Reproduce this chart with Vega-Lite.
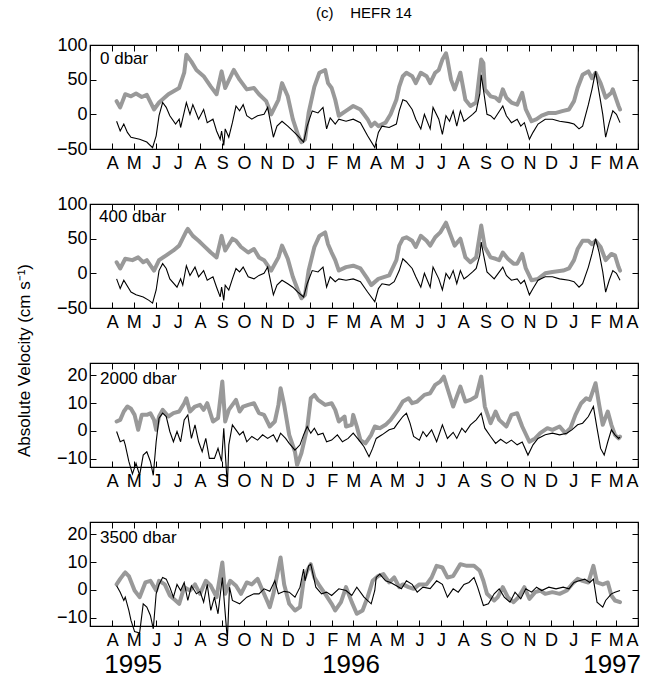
{
"$schema":"https://vega.github.io/schema/vega-lite/v6.json",
"background":"white",
"padding":{"left":14,"top":6,"right":5,"bottom":5},
"config":{"font":"Liberation Sans","view":{"stroke":"black","strokeWidth":1.2},
"axis":{"grid":false,"domain":false,"ticks":true,"tickColor":"black","tickWidth":1,"tickSize":-6,"labelFont":"Liberation Sans","labelFontSize":18,"labelColor":"black","titleFont":"Liberation Sans","titleFontWeight":"normal","titleColor":"black"},
"axisX":{"labelPadding":11},"axisY":{"labelPadding":9},
"title":{"font":"Liberation Sans","fontWeight":"normal","color":"black"}},
"title":{"text":"(c)\u00a0\u00a0\u00a0\u00a0HEFR 14","fontSize":15,"anchor":"middle","offset":14,"dx":36},
"datasets":{
"yr":[{"t":"1995","d":"1995-04-30"},{"t":"1996","d":"1996-02-27"},{"t":"1997","d":"1997-02-24"}],
"v":[
{"s":"g0","d":"1995-04-07","v":19},{"s":"g0","d":"1995-04-12","v":10},{"s":"g0","d":"1995-04-19","v":29},{"s":"g0","d":"1995-04-27","v":26},{"s":"g0","d":"1995-05-04","v":30},{"s":"g0","d":"1995-05-12","v":25},{"s":"g0","d":"1995-05-19","v":28},{"s":"g0","d":"1995-05-29","v":7},{"s":"g0","d":"1995-06-05","v":17},{"s":"g0","d":"1995-06-18","v":29},{"s":"g0","d":"1995-07-03","v":38},{"s":"g0","d":"1995-07-10","v":60},{"s":"g0","d":"1995-07-13","v":86},{"s":"g0","d":"1995-07-20","v":76},{"s":"g0","d":"1995-07-27","v":64},{"s":"g0","d":"1995-08-06","v":55},{"s":"g0","d":"1995-08-16","v":40},{"s":"g0","d":"1995-08-24","v":29},{"s":"g0","d":"1995-08-31","v":62},{"s":"g0","d":"1995-09-05","v":38},{"s":"g0","d":"1995-09-15","v":60},{"s":"g0","d":"1995-09-17","v":64},{"s":"g0","d":"1995-09-25","v":50},{"s":"g0","d":"1995-10-05","v":36},{"s":"g0","d":"1995-10-15","v":38},{"s":"g0","d":"1995-10-22","v":29},{"s":"g0","d":"1995-11-01","v":19},{"s":"g0","d":"1995-11-08","v":0},{"s":"g0","d":"1995-11-18","v":21},{"s":"g0","d":"1995-11-23","v":45},{"s":"g0","d":"1995-12-01","v":26},{"s":"g0","d":"1995-12-08","v":-7},{"s":"g0","d":"1995-12-15","v":-29},{"s":"g0","d":"1995-12-20","v":-40},{"s":"g0","d":"1995-12-25","v":-36},{"s":"g0","d":"1995-12-30","v":2},{"s":"g0","d":"1996-01-07","v":40},{"s":"g0","d":"1996-01-14","v":60},{"s":"g0","d":"1996-01-22","v":64},{"s":"g0","d":"1996-01-26","v":45},{"s":"g0","d":"1996-01-31","v":38},{"s":"g0","d":"1996-02-05","v":21},{"s":"g0","d":"1996-02-10","v":-2},{"s":"g0","d":"1996-02-20","v":5},{"s":"g0","d":"1996-03-01","v":12},{"s":"g0","d":"1996-03-11","v":7},{"s":"g0","d":"1996-03-21","v":-7},{"s":"g0","d":"1996-03-26","v":-17},{"s":"g0","d":"1996-03-31","v":-12},{"s":"g0","d":"1996-04-05","v":-17},{"s":"g0","d":"1996-04-15","v":-12},{"s":"g0","d":"1996-04-22","v":0},{"s":"g0","d":"1996-04-30","v":21},{"s":"g0","d":"1996-05-04","v":40},{"s":"g0","d":"1996-05-09","v":55},{"s":"g0","d":"1996-05-14","v":60},{"s":"g0","d":"1996-05-22","v":55},{"s":"g0","d":"1996-05-27","v":45},{"s":"g0","d":"1996-06-03","v":60},{"s":"g0","d":"1996-06-11","v":55},{"s":"g0","d":"1996-06-16","v":45},{"s":"g0","d":"1996-06-23","v":60},{"s":"g0","d":"1996-06-28","v":64},{"s":"g0","d":"1996-07-03","v":79},{"s":"g0","d":"1996-07-08","v":88},{"s":"g0","d":"1996-07-10","v":79},{"s":"g0","d":"1996-07-15","v":50},{"s":"g0","d":"1996-07-20","v":36},{"s":"g0","d":"1996-07-28","v":60},{"s":"g0","d":"1996-08-04","v":21},{"s":"g0","d":"1996-08-11","v":12},{"s":"g0","d":"1996-08-19","v":17},{"s":"g0","d":"1996-08-26","v":79},{"s":"g0","d":"1996-08-29","v":74},{"s":"g0","d":"1996-08-31","v":36},{"s":"g0","d":"1996-09-08","v":26},{"s":"g0","d":"1996-09-15","v":24},{"s":"g0","d":"1996-09-20","v":19},{"s":"g0","d":"1996-09-25","v":36},{"s":"g0","d":"1996-09-30","v":24},{"s":"g0","d":"1996-10-07","v":17},{"s":"g0","d":"1996-10-15","v":14},{"s":"g0","d":"1996-10-22","v":31},{"s":"g0","d":"1996-10-27","v":7},{"s":"g0","d":"1996-11-04","v":-10},{"s":"g0","d":"1996-11-11","v":-7},{"s":"g0","d":"1996-11-18","v":-2},{"s":"g0","d":"1996-11-28","v":2},{"s":"g0","d":"1996-12-08","v":2},{"s":"g0","d":"1996-12-18","v":5},{"s":"g0","d":"1996-12-26","v":7},{"s":"g0","d":"1997-01-02","v":19},{"s":"g0","d":"1997-01-07","v":38},{"s":"g0","d":"1997-01-14","v":57},{"s":"g0","d":"1997-01-22","v":62},{"s":"g0","d":"1997-01-27","v":52},{"s":"g0","d":"1997-02-01","v":60},{"s":"g0","d":"1997-02-08","v":45},{"s":"g0","d":"1997-02-15","v":24},{"s":"g0","d":"1997-02-23","v":31},{"s":"g0","d":"1997-02-25","v":36},{"s":"g0","d":"1997-03-05","v":12},{"s":"g0","d":"1997-03-07","v":7},
{"s":"b0","d":"1995-04-07","v":-10},{"s":"b0","d":"1995-04-12","v":-24},{"s":"b0","d":"1995-04-17","v":-14},{"s":"b0","d":"1995-04-22","v":-26},{"s":"b0","d":"1995-04-27","v":-33},{"s":"b0","d":"1995-05-09","v":-36},{"s":"b0","d":"1995-05-19","v":-40},{"s":"b0","d":"1995-05-27","v":-48},{"s":"b0","d":"1995-06-01","v":-31},{"s":"b0","d":"1995-06-05","v":-2},{"s":"b0","d":"1995-06-10","v":17},{"s":"b0","d":"1995-06-15","v":10},{"s":"b0","d":"1995-06-20","v":-2},{"s":"b0","d":"1995-06-28","v":-14},{"s":"b0","d":"1995-07-03","v":-7},{"s":"b0","d":"1995-07-05","v":-19},{"s":"b0","d":"1995-07-13","v":17},{"s":"b0","d":"1995-07-18","v":0},{"s":"b0","d":"1995-07-22","v":14},{"s":"b0","d":"1995-07-30","v":-7},{"s":"b0","d":"1995-08-06","v":7},{"s":"b0","d":"1995-08-11","v":-12},{"s":"b0","d":"1995-08-19","v":-7},{"s":"b0","d":"1995-08-24","v":-24},{"s":"b0","d":"1995-08-29","v":-36},{"s":"b0","d":"1995-08-31","v":-24},{"s":"b0","d":"1995-09-03","v":-45},{"s":"b0","d":"1995-09-05","v":-21},{"s":"b0","d":"1995-09-10","v":-33},{"s":"b0","d":"1995-09-15","v":-12},{"s":"b0","d":"1995-09-20","v":12},{"s":"b0","d":"1995-09-25","v":5},{"s":"b0","d":"1995-09-30","v":14},{"s":"b0","d":"1995-10-05","v":-2},{"s":"b0","d":"1995-10-12","v":-7},{"s":"b0","d":"1995-10-20","v":-2},{"s":"b0","d":"1995-10-29","v":0},{"s":"b0","d":"1995-11-03","v":10},{"s":"b0","d":"1995-11-11","v":-33},{"s":"b0","d":"1995-11-16","v":-17},{"s":"b0","d":"1995-11-23","v":-10},{"s":"b0","d":"1995-12-01","v":-17},{"s":"b0","d":"1995-12-08","v":-24},{"s":"b0","d":"1995-12-15","v":-31},{"s":"b0","d":"1995-12-23","v":-40},{"s":"b0","d":"1995-12-28","v":-17},{"s":"b0","d":"1996-01-04","v":5},{"s":"b0","d":"1996-01-12","v":2},{"s":"b0","d":"1996-01-19","v":10},{"s":"b0","d":"1996-01-24","v":-21},{"s":"b0","d":"1996-01-29","v":-5},{"s":"b0","d":"1996-02-05","v":-14},{"s":"b0","d":"1996-02-10","v":-7},{"s":"b0","d":"1996-02-20","v":-10},{"s":"b0","d":"1996-03-01","v":-7},{"s":"b0","d":"1996-03-11","v":-12},{"s":"b0","d":"1996-03-21","v":-31},{"s":"b0","d":"1996-03-31","v":-48},{"s":"b0","d":"1996-04-05","v":-26},{"s":"b0","d":"1996-04-10","v":-17},{"s":"b0","d":"1996-04-20","v":-19},{"s":"b0","d":"1996-04-30","v":-14},{"s":"b0","d":"1996-05-04","v":5},{"s":"b0","d":"1996-05-09","v":21},{"s":"b0","d":"1996-05-14","v":19},{"s":"b0","d":"1996-05-22","v":7},{"s":"b0","d":"1996-05-27","v":-7},{"s":"b0","d":"1996-06-03","v":-21},{"s":"b0","d":"1996-06-08","v":0},{"s":"b0","d":"1996-06-16","v":-21},{"s":"b0","d":"1996-06-20","v":10},{"s":"b0","d":"1996-06-28","v":-7},{"s":"b0","d":"1996-07-03","v":-29},{"s":"b0","d":"1996-07-08","v":-2},{"s":"b0","d":"1996-07-13","v":-10},{"s":"b0","d":"1996-07-18","v":5},{"s":"b0","d":"1996-07-23","v":-17},{"s":"b0","d":"1996-07-28","v":5},{"s":"b0","d":"1996-08-02","v":-10},{"s":"b0","d":"1996-08-06","v":-7},{"s":"b0","d":"1996-08-14","v":0},{"s":"b0","d":"1996-08-19","v":5},{"s":"b0","d":"1996-08-24","v":29},{"s":"b0","d":"1996-08-26","v":57},{"s":"b0","d":"1996-08-29","v":36},{"s":"b0","d":"1996-09-03","v":0},{"s":"b0","d":"1996-09-08","v":-2},{"s":"b0","d":"1996-09-13","v":-7},{"s":"b0","d":"1996-09-25","v":12},{"s":"b0","d":"1996-09-30","v":-2},{"s":"b0","d":"1996-10-07","v":-12},{"s":"b0","d":"1996-10-15","v":-7},{"s":"b0","d":"1996-10-20","v":-17},{"s":"b0","d":"1996-10-25","v":-12},{"s":"b0","d":"1996-11-01","v":-36},{"s":"b0","d":"1996-11-06","v":-26},{"s":"b0","d":"1996-11-13","v":-14},{"s":"b0","d":"1996-11-23","v":-7},{"s":"b0","d":"1996-12-03","v":-7},{"s":"b0","d":"1996-12-13","v":-10},{"s":"b0","d":"1996-12-26","v":-12},{"s":"b0","d":"1997-01-02","v":-14},{"s":"b0","d":"1997-01-09","v":-21},{"s":"b0","d":"1997-01-14","v":-17},{"s":"b0","d":"1997-01-22","v":14},{"s":"b0","d":"1997-01-27","v":36},{"s":"b0","d":"1997-02-01","v":62},{"s":"b0","d":"1997-02-06","v":31},{"s":"b0","d":"1997-02-11","v":0},{"s":"b0","d":"1997-02-15","v":-33},{"s":"b0","d":"1997-02-20","v":-12},{"s":"b0","d":"1997-02-25","v":5},{"s":"b0","d":"1997-03-02","v":0},{"s":"b0","d":"1997-03-07","v":-12},
{"s":"g4","d":"1995-04-07","v":16},{"s":"g4","d":"1995-04-12","v":7},{"s":"g4","d":"1995-04-19","v":21},{"s":"g4","d":"1995-04-29","v":19},{"s":"g4","d":"1995-05-07","v":23},{"s":"g4","d":"1995-05-14","v":16},{"s":"g4","d":"1995-05-19","v":19},{"s":"g4","d":"1995-05-29","v":4},{"s":"g4","d":"1995-06-05","v":19},{"s":"g4","d":"1995-06-15","v":26},{"s":"g4","d":"1995-06-25","v":33},{"s":"g4","d":"1995-07-03","v":40},{"s":"g4","d":"1995-07-13","v":61},{"s":"g4","d":"1995-07-15","v":64},{"s":"g4","d":"1995-07-22","v":54},{"s":"g4","d":"1995-07-30","v":47},{"s":"g4","d":"1995-08-06","v":40},{"s":"g4","d":"1995-08-16","v":30},{"s":"g4","d":"1995-08-24","v":23},{"s":"g4","d":"1995-08-31","v":54},{"s":"g4","d":"1995-09-05","v":33},{"s":"g4","d":"1995-09-15","v":50},{"s":"g4","d":"1995-09-20","v":47},{"s":"g4","d":"1995-09-27","v":38},{"s":"g4","d":"1995-10-07","v":30},{"s":"g4","d":"1995-10-15","v":35},{"s":"g4","d":"1995-10-22","v":23},{"s":"g4","d":"1995-10-29","v":19},{"s":"g4","d":"1995-11-08","v":4},{"s":"g4","d":"1995-11-18","v":23},{"s":"g4","d":"1995-11-23","v":40},{"s":"g4","d":"1995-12-01","v":21},{"s":"g4","d":"1995-12-08","v":-5},{"s":"g4","d":"1995-12-15","v":-24},{"s":"g4","d":"1995-12-20","v":-36},{"s":"g4","d":"1995-12-25","v":-31},{"s":"g4","d":"1995-12-30","v":4},{"s":"g4","d":"1996-01-07","v":38},{"s":"g4","d":"1996-01-14","v":54},{"s":"g4","d":"1996-01-22","v":59},{"s":"g4","d":"1996-01-26","v":42},{"s":"g4","d":"1996-01-31","v":30},{"s":"g4","d":"1996-02-05","v":19},{"s":"g4","d":"1996-02-10","v":4},{"s":"g4","d":"1996-02-20","v":9},{"s":"g4","d":"1996-03-01","v":11},{"s":"g4","d":"1996-03-11","v":7},{"s":"g4","d":"1996-03-21","v":-8},{"s":"g4","d":"1996-03-26","v":-17},{"s":"g4","d":"1996-04-05","v":-8},{"s":"g4","d":"1996-04-20","v":-3},{"s":"g4","d":"1996-04-30","v":19},{"s":"g4","d":"1996-05-04","v":40},{"s":"g4","d":"1996-05-09","v":50},{"s":"g4","d":"1996-05-14","v":52},{"s":"g4","d":"1996-05-22","v":47},{"s":"g4","d":"1996-05-27","v":38},{"s":"g4","d":"1996-06-03","v":54},{"s":"g4","d":"1996-06-11","v":47},{"s":"g4","d":"1996-06-16","v":40},{"s":"g4","d":"1996-06-23","v":52},{"s":"g4","d":"1996-06-30","v":59},{"s":"g4","d":"1996-07-08","v":73},{"s":"g4","d":"1996-07-13","v":59},{"s":"g4","d":"1996-07-20","v":40},{"s":"g4","d":"1996-07-28","v":50},{"s":"g4","d":"1996-08-04","v":23},{"s":"g4","d":"1996-08-11","v":16},{"s":"g4","d":"1996-08-19","v":23},{"s":"g4","d":"1996-08-26","v":69},{"s":"g4","d":"1996-08-31","v":38},{"s":"g4","d":"1996-09-08","v":23},{"s":"g4","d":"1996-09-15","v":21},{"s":"g4","d":"1996-09-20","v":19},{"s":"g4","d":"1996-09-25","v":30},{"s":"g4","d":"1996-10-02","v":21},{"s":"g4","d":"1996-10-10","v":14},{"s":"g4","d":"1996-10-15","v":14},{"s":"g4","d":"1996-10-22","v":28},{"s":"g4","d":"1996-10-27","v":7},{"s":"g4","d":"1996-11-04","v":-10},{"s":"g4","d":"1996-11-13","v":-8},{"s":"g4","d":"1996-11-23","v":0},{"s":"g4","d":"1996-12-03","v":2},{"s":"g4","d":"1996-12-18","v":4},{"s":"g4","d":"1996-12-26","v":7},{"s":"g4","d":"1997-01-02","v":19},{"s":"g4","d":"1997-01-07","v":35},{"s":"g4","d":"1997-01-14","v":47},{"s":"g4","d":"1997-01-22","v":47},{"s":"g4","d":"1997-01-27","v":42},{"s":"g4","d":"1997-02-01","v":47},{"s":"g4","d":"1997-02-08","v":38},{"s":"g4","d":"1997-02-15","v":19},{"s":"g4","d":"1997-02-23","v":28},{"s":"g4","d":"1997-02-28","v":26},{"s":"g4","d":"1997-03-05","v":9},{"s":"g4","d":"1997-03-07","v":4},
{"s":"b4","d":"1995-04-07","v":-8},{"s":"b4","d":"1995-04-12","v":-22},{"s":"b4","d":"1995-04-17","v":-10},{"s":"b4","d":"1995-04-27","v":-27},{"s":"b4","d":"1995-05-04","v":-31},{"s":"b4","d":"1995-05-14","v":-34},{"s":"b4","d":"1995-05-22","v":-39},{"s":"b4","d":"1995-05-27","v":-43},{"s":"b4","d":"1995-06-01","v":-24},{"s":"b4","d":"1995-06-05","v":4},{"s":"b4","d":"1995-06-10","v":14},{"s":"b4","d":"1995-06-15","v":7},{"s":"b4","d":"1995-06-20","v":-8},{"s":"b4","d":"1995-06-30","v":-20},{"s":"b4","d":"1995-07-05","v":-8},{"s":"b4","d":"1995-07-08","v":-17},{"s":"b4","d":"1995-07-13","v":11},{"s":"b4","d":"1995-07-18","v":-3},{"s":"b4","d":"1995-07-25","v":9},{"s":"b4","d":"1995-07-30","v":-5},{"s":"b4","d":"1995-08-06","v":4},{"s":"b4","d":"1995-08-11","v":-10},{"s":"b4","d":"1995-08-19","v":-5},{"s":"b4","d":"1995-08-24","v":-20},{"s":"b4","d":"1995-08-29","v":-34},{"s":"b4","d":"1995-08-31","v":-20},{"s":"b4","d":"1995-09-03","v":-39},{"s":"b4","d":"1995-09-05","v":-17},{"s":"b4","d":"1995-09-10","v":-24},{"s":"b4","d":"1995-09-15","v":-8},{"s":"b4","d":"1995-09-20","v":7},{"s":"b4","d":"1995-09-25","v":2},{"s":"b4","d":"1995-09-30","v":9},{"s":"b4","d":"1995-10-07","v":-5},{"s":"b4","d":"1995-10-15","v":-8},{"s":"b4","d":"1995-10-22","v":-3},{"s":"b4","d":"1995-10-29","v":0},{"s":"b4","d":"1995-11-03","v":9},{"s":"b4","d":"1995-11-11","v":-31},{"s":"b4","d":"1995-11-16","v":-17},{"s":"b4","d":"1995-11-23","v":-10},{"s":"b4","d":"1995-12-01","v":-15},{"s":"b4","d":"1995-12-08","v":-20},{"s":"b4","d":"1995-12-15","v":-27},{"s":"b4","d":"1995-12-23","v":-34},{"s":"b4","d":"1995-12-28","v":-15},{"s":"b4","d":"1996-01-04","v":4},{"s":"b4","d":"1996-01-12","v":2},{"s":"b4","d":"1996-01-19","v":9},{"s":"b4","d":"1996-01-24","v":-20},{"s":"b4","d":"1996-01-29","v":-5},{"s":"b4","d":"1996-02-05","v":-12},{"s":"b4","d":"1996-02-10","v":-8},{"s":"b4","d":"1996-02-20","v":-10},{"s":"b4","d":"1996-03-01","v":-8},{"s":"b4","d":"1996-03-11","v":-12},{"s":"b4","d":"1996-03-21","v":-27},{"s":"b4","d":"1996-03-31","v":-41},{"s":"b4","d":"1996-04-05","v":-22},{"s":"b4","d":"1996-04-10","v":-15},{"s":"b4","d":"1996-04-20","v":-17},{"s":"b4","d":"1996-04-27","v":-12},{"s":"b4","d":"1996-05-04","v":4},{"s":"b4","d":"1996-05-09","v":21},{"s":"b4","d":"1996-05-14","v":16},{"s":"b4","d":"1996-05-22","v":7},{"s":"b4","d":"1996-05-27","v":-5},{"s":"b4","d":"1996-06-03","v":-20},{"s":"b4","d":"1996-06-08","v":0},{"s":"b4","d":"1996-06-16","v":-20},{"s":"b4","d":"1996-06-20","v":9},{"s":"b4","d":"1996-06-28","v":-8},{"s":"b4","d":"1996-07-03","v":-24},{"s":"b4","d":"1996-07-08","v":0},{"s":"b4","d":"1996-07-13","v":-8},{"s":"b4","d":"1996-07-18","v":4},{"s":"b4","d":"1996-07-23","v":-15},{"s":"b4","d":"1996-07-28","v":4},{"s":"b4","d":"1996-08-02","v":-8},{"s":"b4","d":"1996-08-06","v":-5},{"s":"b4","d":"1996-08-14","v":2},{"s":"b4","d":"1996-08-19","v":7},{"s":"b4","d":"1996-08-24","v":26},{"s":"b4","d":"1996-08-26","v":45},{"s":"b4","d":"1996-08-29","v":28},{"s":"b4","d":"1996-09-03","v":2},{"s":"b4","d":"1996-09-08","v":-3},{"s":"b4","d":"1996-09-13","v":-8},{"s":"b4","d":"1996-09-25","v":9},{"s":"b4","d":"1996-09-30","v":-3},{"s":"b4","d":"1996-10-07","v":-10},{"s":"b4","d":"1996-10-15","v":-8},{"s":"b4","d":"1996-10-20","v":-15},{"s":"b4","d":"1996-10-25","v":-10},{"s":"b4","d":"1996-11-01","v":-31},{"s":"b4","d":"1996-11-06","v":-22},{"s":"b4","d":"1996-11-13","v":-10},{"s":"b4","d":"1996-11-23","v":-5},{"s":"b4","d":"1996-12-03","v":-5},{"s":"b4","d":"1996-12-13","v":-8},{"s":"b4","d":"1996-12-26","v":-10},{"s":"b4","d":"1997-01-02","v":-12},{"s":"b4","d":"1997-01-09","v":-20},{"s":"b4","d":"1997-01-14","v":-15},{"s":"b4","d":"1997-01-22","v":9},{"s":"b4","d":"1997-01-27","v":28},{"s":"b4","d":"1997-02-01","v":50},{"s":"b4","d":"1997-02-06","v":30},{"s":"b4","d":"1997-02-11","v":2},{"s":"b4","d":"1997-02-15","v":-27},{"s":"b4","d":"1997-02-20","v":-10},{"s":"b4","d":"1997-02-25","v":4},{"s":"b4","d":"1997-03-02","v":0},{"s":"b4","d":"1997-03-07","v":-10},
{"s":"g2","d":"1995-04-07","v":3.4},{"s":"g2","d":"1995-04-12","v":4},{"s":"g2","d":"1995-04-17","v":7},{"s":"g2","d":"1995-04-22","v":8.8},{"s":"g2","d":"1995-04-27","v":8},{"s":"g2","d":"1995-05-02","v":5.8},{"s":"g2","d":"1995-05-07","v":0.4},{"s":"g2","d":"1995-05-12","v":5.8},{"s":"g2","d":"1995-05-19","v":5.8},{"s":"g2","d":"1995-05-24","v":6.4},{"s":"g2","d":"1995-05-29","v":4},{"s":"g2","d":"1995-06-01","v":0.4},{"s":"g2","d":"1995-06-05","v":5.2},{"s":"g2","d":"1995-06-10","v":7.6},{"s":"g2","d":"1995-06-18","v":5.2},{"s":"g2","d":"1995-06-25","v":6.4},{"s":"g2","d":"1995-07-03","v":7},{"s":"g2","d":"1995-07-10","v":10},{"s":"g2","d":"1995-07-13","v":11.8},{"s":"g2","d":"1995-07-18","v":7},{"s":"g2","d":"1995-07-25","v":8.8},{"s":"g2","d":"1995-08-01","v":9.4},{"s":"g2","d":"1995-08-06","v":7.6},{"s":"g2","d":"1995-08-11","v":10},{"s":"g2","d":"1995-08-19","v":3.4},{"s":"g2","d":"1995-08-26","v":4.6},{"s":"g2","d":"1995-09-01","v":17.8},{"s":"g2","d":"1995-09-05","v":3.4},{"s":"g2","d":"1995-09-10","v":7.6},{"s":"g2","d":"1995-09-20","v":11.2},{"s":"g2","d":"1995-09-25","v":7},{"s":"g2","d":"1995-09-30","v":8.8},{"s":"g2","d":"1995-10-07","v":9.4},{"s":"g2","d":"1995-10-15","v":10},{"s":"g2","d":"1995-10-22","v":6.4},{"s":"g2","d":"1995-10-29","v":5.8},{"s":"g2","d":"1995-11-06","v":1.6},{"s":"g2","d":"1995-11-13","v":3.4},{"s":"g2","d":"1995-11-18","v":9.4},{"s":"g2","d":"1995-11-21","v":15.4},{"s":"g2","d":"1995-11-26","v":9.4},{"s":"g2","d":"1995-12-03","v":-1.4},{"s":"g2","d":"1995-12-11","v":-7.5},{"s":"g2","d":"1995-12-14","v":-12.3},{"s":"g2","d":"1995-12-20","v":-8},{"s":"g2","d":"1995-12-28","v":1},{"s":"g2","d":"1996-01-02","v":11.8},{"s":"g2","d":"1996-01-07","v":13},{"s":"g2","d":"1996-01-12","v":11.2},{"s":"g2","d":"1996-01-22","v":9.4},{"s":"g2","d":"1996-01-31","v":10},{"s":"g2","d":"1996-02-05","v":7.6},{"s":"g2","d":"1996-02-10","v":3.4},{"s":"g2","d":"1996-02-18","v":5.2},{"s":"g2","d":"1996-02-20","v":1.6},{"s":"g2","d":"1996-02-28","v":2.2},{"s":"g2","d":"1996-03-01","v":5.8},{"s":"g2","d":"1996-03-06","v":1.6},{"s":"g2","d":"1996-03-11","v":-3.3},{"s":"g2","d":"1996-03-18","v":-4.5},{"s":"g2","d":"1996-03-26","v":-1.4},{"s":"g2","d":"1996-03-31","v":1.6},{"s":"g2","d":"1996-04-07","v":1},{"s":"g2","d":"1996-04-15","v":2.2},{"s":"g2","d":"1996-04-22","v":4},{"s":"g2","d":"1996-05-02","v":7.6},{"s":"g2","d":"1996-05-09","v":10.6},{"s":"g2","d":"1996-05-17","v":11.8},{"s":"g2","d":"1996-05-22","v":10},{"s":"g2","d":"1996-05-29","v":10.6},{"s":"g2","d":"1996-06-08","v":13},{"s":"g2","d":"1996-06-16","v":13.6},{"s":"g2","d":"1996-06-23","v":16.6},{"s":"g2","d":"1996-06-30","v":17.8},{"s":"g2","d":"1996-07-05","v":19.6},{"s":"g2","d":"1996-07-10","v":15.4},{"s":"g2","d":"1996-07-18","v":8.8},{"s":"g2","d":"1996-07-28","v":16},{"s":"g2","d":"1996-08-04","v":10.6},{"s":"g2","d":"1996-08-11","v":11.2},{"s":"g2","d":"1996-08-19","v":12.4},{"s":"g2","d":"1996-08-26","v":19.6},{"s":"g2","d":"1996-08-31","v":8.8},{"s":"g2","d":"1996-09-08","v":2.8},{"s":"g2","d":"1996-09-15","v":7},{"s":"g2","d":"1996-09-20","v":4},{"s":"g2","d":"1996-09-30","v":1.6},{"s":"g2","d":"1996-10-07","v":5.8},{"s":"g2","d":"1996-10-15","v":6.4},{"s":"g2","d":"1996-10-22","v":1.6},{"s":"g2","d":"1996-11-01","v":-3.9},{"s":"g2","d":"1996-11-09","v":-2.7},{"s":"g2","d":"1996-11-16","v":-0.8},{"s":"g2","d":"1996-11-26","v":1},{"s":"g2","d":"1996-12-03","v":0.4},{"s":"g2","d":"1996-12-13","v":1.6},{"s":"g2","d":"1996-12-21","v":-0.8},{"s":"g2","d":"1996-12-28","v":1},{"s":"g2","d":"1997-01-04","v":5.8},{"s":"g2","d":"1997-01-12","v":10},{"s":"g2","d":"1997-01-19","v":11.8},{"s":"g2","d":"1997-01-24","v":11.2},{"s":"g2","d":"1997-02-01","v":17.2},{"s":"g2","d":"1997-02-06","v":9.4},{"s":"g2","d":"1997-02-11","v":2.2},{"s":"g2","d":"1997-02-18","v":7},{"s":"g2","d":"1997-02-23","v":2.2},{"s":"g2","d":"1997-02-28","v":-1.4},{"s":"g2","d":"1997-03-05","v":-2.7},{"s":"g2","d":"1997-03-07","v":-2},
{"s":"b2","d":"1995-04-07","v":-0.2},{"s":"b2","d":"1995-04-12","v":-3.9},{"s":"b2","d":"1995-04-17","v":-3.3},{"s":"b2","d":"1995-04-19","v":-5},{"s":"b2","d":"1995-04-24","v":-11},{"s":"b2","d":"1995-04-29","v":-15.5},{"s":"b2","d":"1995-05-04","v":-11.7},{"s":"b2","d":"1995-05-09","v":-16},{"s":"b2","d":"1995-05-14","v":-8.7},{"s":"b2","d":"1995-05-19","v":-7.5},{"s":"b2","d":"1995-05-24","v":-11},{"s":"b2","d":"1995-05-28","v":-16},{"s":"b2","d":"1995-06-01","v":-3.9},{"s":"b2","d":"1995-06-05","v":4.6},{"s":"b2","d":"1995-06-10","v":6.4},{"s":"b2","d":"1995-06-15","v":5.2},{"s":"b2","d":"1995-06-20","v":-0.2},{"s":"b2","d":"1995-06-25","v":-3.9},{"s":"b2","d":"1995-06-30","v":-0.2},{"s":"b2","d":"1995-07-05","v":-3.9},{"s":"b2","d":"1995-07-10","v":4},{"s":"b2","d":"1995-07-15","v":5.8},{"s":"b2","d":"1995-07-20","v":-2.7},{"s":"b2","d":"1995-07-25","v":2.2},{"s":"b2","d":"1995-07-30","v":-3.9},{"s":"b2","d":"1995-08-04","v":-7.5},{"s":"b2","d":"1995-08-09","v":-2.7},{"s":"b2","d":"1995-08-14","v":-9.9},{"s":"b2","d":"1995-08-21","v":-9.9},{"s":"b2","d":"1995-08-26","v":-6.3},{"s":"b2","d":"1995-08-31","v":-11},{"s":"b2","d":"1995-09-03","v":1},{"s":"b2","d":"1995-09-08","v":-20},{"s":"b2","d":"1995-09-10","v":-5},{"s":"b2","d":"1995-09-15","v":2.2},{"s":"b2","d":"1995-09-20","v":0.4},{"s":"b2","d":"1995-09-25","v":-1.4},{"s":"b2","d":"1995-09-30","v":-0.2},{"s":"b2","d":"1995-10-05","v":-3.9},{"s":"b2","d":"1995-10-12","v":-2},{"s":"b2","d":"1995-10-20","v":-3.3},{"s":"b2","d":"1995-10-27","v":-1.4},{"s":"b2","d":"1995-11-03","v":-2.7},{"s":"b2","d":"1995-11-11","v":-1.4},{"s":"b2","d":"1995-11-16","v":-3.9},{"s":"b2","d":"1995-11-21","v":-0.8},{"s":"b2","d":"1995-11-28","v":-2.7},{"s":"b2","d":"1995-12-03","v":-4.5},{"s":"b2","d":"1995-12-11","v":-6.9},{"s":"b2","d":"1995-12-18","v":-5},{"s":"b2","d":"1995-12-23","v":-1.4},{"s":"b2","d":"1995-12-28","v":1.6},{"s":"b2","d":"1996-01-02","v":-0.8},{"s":"b2","d":"1996-01-07","v":1},{"s":"b2","d":"1996-01-12","v":-1.4},{"s":"b2","d":"1996-01-19","v":-0.8},{"s":"b2","d":"1996-01-24","v":-3.9},{"s":"b2","d":"1996-01-31","v":-3.3},{"s":"b2","d":"1996-02-08","v":-1.4},{"s":"b2","d":"1996-02-15","v":-3.9},{"s":"b2","d":"1996-02-23","v":-2.7},{"s":"b2","d":"1996-03-01","v":-0.8},{"s":"b2","d":"1996-03-09","v":-3.3},{"s":"b2","d":"1996-03-16","v":-5.7},{"s":"b2","d":"1996-03-23","v":-9.3},{"s":"b2","d":"1996-03-28","v":-6.3},{"s":"b2","d":"1996-04-02","v":-2.7},{"s":"b2","d":"1996-04-10","v":-1.4},{"s":"b2","d":"1996-04-20","v":0.4},{"s":"b2","d":"1996-04-27","v":1},{"s":"b2","d":"1996-05-02","v":2.8},{"s":"b2","d":"1996-05-09","v":5.2},{"s":"b2","d":"1996-05-14","v":6.4},{"s":"b2","d":"1996-05-19","v":2.8},{"s":"b2","d":"1996-05-24","v":-2},{"s":"b2","d":"1996-06-01","v":-3.3},{"s":"b2","d":"1996-06-06","v":-0.2},{"s":"b2","d":"1996-06-11","v":-2},{"s":"b2","d":"1996-06-18","v":0.4},{"s":"b2","d":"1996-06-25","v":-3.9},{"s":"b2","d":"1996-07-03","v":2.2},{"s":"b2","d":"1996-07-10","v":-2.7},{"s":"b2","d":"1996-07-18","v":-0.5},{"s":"b2","d":"1996-07-23","v":-2.7},{"s":"b2","d":"1996-07-30","v":1},{"s":"b2","d":"1996-08-04","v":-0.5},{"s":"b2","d":"1996-08-11","v":2.2},{"s":"b2","d":"1996-08-19","v":4},{"s":"b2","d":"1996-08-26","v":6.4},{"s":"b2","d":"1996-08-31","v":1},{"s":"b2","d":"1996-09-08","v":-2},{"s":"b2","d":"1996-09-15","v":-4.5},{"s":"b2","d":"1996-09-22","v":-3},{"s":"b2","d":"1996-09-30","v":-4.5},{"s":"b2","d":"1996-10-07","v":-3.3},{"s":"b2","d":"1996-10-15","v":-5},{"s":"b2","d":"1996-10-22","v":-4},{"s":"b2","d":"1996-10-30","v":-8.7},{"s":"b2","d":"1996-11-06","v":-5},{"s":"b2","d":"1996-11-13","v":-2.7},{"s":"b2","d":"1996-11-23","v":-1.4},{"s":"b2","d":"1996-12-03","v":-0.8},{"s":"b2","d":"1996-12-13","v":-1.4},{"s":"b2","d":"1996-12-23","v":-0.8},{"s":"b2","d":"1996-12-30","v":0.4},{"s":"b2","d":"1997-01-07","v":2.2},{"s":"b2","d":"1997-01-14","v":2.8},{"s":"b2","d":"1997-01-22","v":5.2},{"s":"b2","d":"1997-01-29","v":8.8},{"s":"b2","d":"1997-02-03","v":1},{"s":"b2","d":"1997-02-08","v":-6.3},{"s":"b2","d":"1997-02-13","v":-8.7},{"s":"b2","d":"1997-02-18","v":-3.9},{"s":"b2","d":"1997-02-23","v":0.4},{"s":"b2","d":"1997-02-28","v":-1.4},{"s":"b2","d":"1997-03-05","v":-2.7},{"s":"b2","d":"1997-03-07","v":-2.2},
{"s":"g3","d":"1995-04-07","v":2},{"s":"g3","d":"1995-04-12","v":4},{"s":"g3","d":"1995-04-17","v":5.7},{"s":"g3","d":"1995-04-19","v":6.3},{"s":"g3","d":"1995-04-24","v":5},{"s":"g3","d":"1995-05-02","v":-0.2},{"s":"g3","d":"1995-05-09","v":-2.6},{"s":"g3","d":"1995-05-17","v":2.7},{"s":"g3","d":"1995-05-24","v":3.3},{"s":"g3","d":"1995-06-01","v":-0.2},{"s":"g3","d":"1995-06-05","v":3.3},{"s":"g3","d":"1995-06-13","v":2},{"s":"g3","d":"1995-06-20","v":-2},{"s":"g3","d":"1995-06-28","v":-3.8},{"s":"g3","d":"1995-07-03","v":-5},{"s":"g3","d":"1995-07-10","v":1},{"s":"g3","d":"1995-07-18","v":-0.2},{"s":"g3","d":"1995-07-25","v":2},{"s":"g3","d":"1995-08-01","v":-1.4},{"s":"g3","d":"1995-08-09","v":3.3},{"s":"g3","d":"1995-08-16","v":1.5},{"s":"g3","d":"1995-08-24","v":-2.6},{"s":"g3","d":"1995-09-01","v":9.9},{"s":"g3","d":"1995-09-05","v":-1.4},{"s":"g3","d":"1995-09-12","v":3.3},{"s":"g3","d":"1995-09-20","v":1.5},{"s":"g3","d":"1995-09-27","v":-1.4},{"s":"g3","d":"1995-10-05","v":2.7},{"s":"g3","d":"1995-10-12","v":2},{"s":"g3","d":"1995-10-20","v":4},{"s":"g3","d":"1995-10-25","v":1},{"s":"g3","d":"1995-11-01","v":-3.2},{"s":"g3","d":"1995-11-06","v":-6.2},{"s":"g3","d":"1995-11-11","v":-1.4},{"s":"g3","d":"1995-11-21","v":11.7},{"s":"g3","d":"1995-11-26","v":2},{"s":"g3","d":"1995-12-03","v":-5},{"s":"g3","d":"1995-12-11","v":-7.4},{"s":"g3","d":"1995-12-18","v":-6.2},{"s":"g3","d":"1995-12-23","v":3.3},{"s":"g3","d":"1995-12-28","v":6.9},{"s":"g3","d":"1996-01-02","v":9.3},{"s":"g3","d":"1996-01-07","v":4.5},{"s":"g3","d":"1996-01-14","v":1.5},{"s":"g3","d":"1996-01-22","v":-1.4},{"s":"g3","d":"1996-01-31","v":-5},{"s":"g3","d":"1996-02-05","v":-7.4},{"s":"g3","d":"1996-02-13","v":-4.4},{"s":"g3","d":"1996-02-20","v":1},{"s":"g3","d":"1996-02-28","v":-4.4},{"s":"g3","d":"1996-03-06","v":-8.6},{"s":"g3","d":"1996-03-14","v":-7.4},{"s":"g3","d":"1996-03-21","v":-2.6},{"s":"g3","d":"1996-03-28","v":3.3},{"s":"g3","d":"1996-04-05","v":5.1},{"s":"g3","d":"1996-04-12","v":5.7},{"s":"g3","d":"1996-04-20","v":2.7},{"s":"g3","d":"1996-04-27","v":4.5},{"s":"g3","d":"1996-05-04","v":1},{"s":"g3","d":"1996-05-09","v":2},{"s":"g3","d":"1996-05-17","v":1},{"s":"g3","d":"1996-05-24","v":0.4},{"s":"g3","d":"1996-06-01","v":2},{"s":"g3","d":"1996-06-11","v":2},{"s":"g3","d":"1996-06-18","v":4.5},{"s":"g3","d":"1996-06-25","v":8.7},{"s":"g3","d":"1996-07-03","v":8.1},{"s":"g3","d":"1996-07-10","v":4.5},{"s":"g3","d":"1996-07-18","v":5},{"s":"g3","d":"1996-07-28","v":9.3},{"s":"g3","d":"1996-08-06","v":8.7},{"s":"g3","d":"1996-08-16","v":8.7},{"s":"g3","d":"1996-08-24","v":6.9},{"s":"g3","d":"1996-08-29","v":3.3},{"s":"g3","d":"1996-09-03","v":-1.4},{"s":"g3","d":"1996-09-13","v":-3.8},{"s":"g3","d":"1996-09-18","v":-2.6},{"s":"g3","d":"1996-09-25","v":1},{"s":"g3","d":"1996-10-02","v":-2.6},{"s":"g3","d":"1996-10-10","v":-4.4},{"s":"g3","d":"1996-10-17","v":-2.6},{"s":"g3","d":"1996-10-25","v":1},{"s":"g3","d":"1996-11-01","v":-3.2},{"s":"g3","d":"1996-11-09","v":-0.8},{"s":"g3","d":"1996-11-16","v":-0.2},{"s":"g3","d":"1996-11-23","v":-1.4},{"s":"g3","d":"1996-12-03","v":-0.8},{"s":"g3","d":"1996-12-13","v":-1.4},{"s":"g3","d":"1996-12-23","v":-0.2},{"s":"g3","d":"1996-12-30","v":2},{"s":"g3","d":"1997-01-07","v":4},{"s":"g3","d":"1997-01-14","v":3.3},{"s":"g3","d":"1997-01-22","v":2.7},{"s":"g3","d":"1997-01-29","v":8.7},{"s":"g3","d":"1997-02-03","v":2.7},{"s":"g3","d":"1997-02-11","v":2},{"s":"g3","d":"1997-02-18","v":2.7},{"s":"g3","d":"1997-02-23","v":-2},{"s":"g3","d":"1997-02-28","v":-3.8},{"s":"g3","d":"1997-03-07","v":-4.4},
{"s":"b3","d":"1995-04-07","v":1.5},{"s":"b3","d":"1995-04-12","v":-0.8},{"s":"b3","d":"1995-04-17","v":-3.8},{"s":"b3","d":"1995-04-19","v":-2.6},{"s":"b3","d":"1995-04-24","v":-7.4},{"s":"b3","d":"1995-04-27","v":-11},{"s":"b3","d":"1995-05-02","v":-15},{"s":"b3","d":"1995-05-09","v":-15.5},{"s":"b3","d":"1995-05-14","v":-5},{"s":"b3","d":"1995-05-19","v":-6.2},{"s":"b3","d":"1995-05-24","v":-9.2},{"s":"b3","d":"1995-05-28","v":-14},{"s":"b3","d":"1995-06-01","v":-1.4},{"s":"b3","d":"1995-06-05","v":2},{"s":"b3","d":"1995-06-10","v":4.5},{"s":"b3","d":"1995-06-15","v":3.9},{"s":"b3","d":"1995-06-20","v":1},{"s":"b3","d":"1995-06-25","v":-2.6},{"s":"b3","d":"1995-06-30","v":2},{"s":"b3","d":"1995-07-05","v":-0.2},{"s":"b3","d":"1995-07-10","v":2.7},{"s":"b3","d":"1995-07-15","v":-3.8},{"s":"b3","d":"1995-07-20","v":1.5},{"s":"b3","d":"1995-07-27","v":-1.4},{"s":"b3","d":"1995-08-01","v":-0.5},{"s":"b3","d":"1995-08-06","v":-4.4},{"s":"b3","d":"1995-08-11","v":2},{"s":"b3","d":"1995-08-16","v":-7.4},{"s":"b3","d":"1995-08-21","v":-2.6},{"s":"b3","d":"1995-08-26","v":-8.6},{"s":"b3","d":"1995-09-01","v":4.5},{"s":"b3","d":"1995-09-08","v":-18},{"s":"b3","d":"1995-09-11","v":1},{"s":"b3","d":"1995-09-15","v":-3.8},{"s":"b3","d":"1995-09-25","v":-5},{"s":"b3","d":"1995-10-05","v":-2.6},{"s":"b3","d":"1995-10-15","v":-1.4},{"s":"b3","d":"1995-10-22","v":-1.4},{"s":"b3","d":"1995-10-29","v":0.4},{"s":"b3","d":"1995-11-06","v":-0.5},{"s":"b3","d":"1995-11-13","v":3.3},{"s":"b3","d":"1995-11-18","v":-1.4},{"s":"b3","d":"1995-11-26","v":-0.5},{"s":"b3","d":"1995-12-03","v":-0.8},{"s":"b3","d":"1995-12-11","v":-2.6},{"s":"b3","d":"1995-12-18","v":1},{"s":"b3","d":"1995-12-23","v":7.5},{"s":"b3","d":"1995-12-25","v":3.3},{"s":"b3","d":"1995-12-30","v":8.7},{"s":"b3","d":"1996-01-02","v":9.3},{"s":"b3","d":"1996-01-09","v":1},{"s":"b3","d":"1996-01-17","v":-1.4},{"s":"b3","d":"1996-01-24","v":-0.8},{"s":"b3","d":"1996-01-31","v":-2},{"s":"b3","d":"1996-02-10","v":0.4},{"s":"b3","d":"1996-02-20","v":-0.2},{"s":"b3","d":"1996-02-28","v":-2},{"s":"b3","d":"1996-03-06","v":1},{"s":"b3","d":"1996-03-16","v":-2.6},{"s":"b3","d":"1996-03-26","v":-5},{"s":"b3","d":"1996-03-31","v":-0.2},{"s":"b3","d":"1996-04-02","v":4.5},{"s":"b3","d":"1996-04-07","v":5.7},{"s":"b3","d":"1996-04-15","v":3.3},{"s":"b3","d":"1996-04-22","v":2.7},{"s":"b3","d":"1996-04-30","v":1.5},{"s":"b3","d":"1996-05-07","v":0.4},{"s":"b3","d":"1996-05-14","v":3.3},{"s":"b3","d":"1996-05-22","v":2},{"s":"b3","d":"1996-05-29","v":-0.8},{"s":"b3","d":"1996-06-06","v":1},{"s":"b3","d":"1996-06-16","v":0.5},{"s":"b3","d":"1996-06-25","v":3.3},{"s":"b3","d":"1996-07-03","v":2},{"s":"b3","d":"1996-07-10","v":-2.6},{"s":"b3","d":"1996-07-18","v":0.4},{"s":"b3","d":"1996-07-25","v":-0.8},{"s":"b3","d":"1996-08-02","v":2},{"s":"b3","d":"1996-08-09","v":2.7},{"s":"b3","d":"1996-08-16","v":4.5},{"s":"b3","d":"1996-08-21","v":1},{"s":"b3","d":"1996-08-29","v":-5.6},{"s":"b3","d":"1996-09-05","v":-5},{"s":"b3","d":"1996-09-13","v":-1.4},{"s":"b3","d":"1996-09-20","v":0.4},{"s":"b3","d":"1996-09-27","v":-2.6},{"s":"b3","d":"1996-10-05","v":-4.4},{"s":"b3","d":"1996-10-12","v":-0.8},{"s":"b3","d":"1996-10-20","v":-3.2},{"s":"b3","d":"1996-10-27","v":0.4},{"s":"b3","d":"1996-11-04","v":-0.8},{"s":"b3","d":"1996-11-11","v":1},{"s":"b3","d":"1996-11-18","v":-0.2},{"s":"b3","d":"1996-11-28","v":1},{"s":"b3","d":"1996-12-08","v":0.4},{"s":"b3","d":"1996-12-18","v":1},{"s":"b3","d":"1996-12-26","v":0.4},{"s":"b3","d":"1997-01-02","v":2.7},{"s":"b3","d":"1997-01-09","v":3.3},{"s":"b3","d":"1997-01-17","v":3.9},{"s":"b3","d":"1997-01-24","v":2.7},{"s":"b3","d":"1997-01-29","v":3.9},{"s":"b3","d":"1997-02-03","v":-4.4},{"s":"b3","d":"1997-02-11","v":-6.2},{"s":"b3","d":"1997-02-15","v":-3.8},{"s":"b3","d":"1997-02-23","v":-1.4},{"s":"b3","d":"1997-02-28","v":-0.8},{"s":"b3","d":"1997-03-07","v":-0.2}
]},
"data":{"name":"v"},
"spacing":55,
"bounds":"flush",
"vconcat":[
{"width":548,"height":104,
"title":{"text":"0 dbar","anchor":"start","frame":"group","offset":-32,"dx":10,"fontSize":17,"fontWeight":"normal"},
"layer":[
{"transform":[{"filter":"datum.s==='g0'"}],"mark":{"type":"line","color":"#999999","strokeWidth":4,"strokeJoin":"round","strokeCap":"round"},
"encoding":{"x":{"field":"d","type":"temporal","scale":{"type":"utc","nice":false,"domain":[{"year":1995,"month":3,"date":1,"utc":true},{"year":1997,"month":4,"date":1,"utc":true}]},"axis":{"orient":"top","tickCount":{"interval":"month","step":1},"labels":false,"title":null}},
"y":{"field":"v","type":"quantitative","scale":{"domain":[-50,100],"nice":false,"zero":false},"axis":{"orient":"right","values":[-50,0,50,100],"labels":false,"title":null}}}},
{"transform":[{"filter":"datum.s==='b0'"}],"mark":{"type":"line","color":"black","strokeWidth":1.1},
"encoding":{"x":{"field":"d","type":"temporal","scale":{"type":"utc","nice":false,"domain":[{"year":1995,"month":3,"date":1,"utc":true},{"year":1997,"month":4,"date":1,"utc":true}]},"axis":{"orient":"bottom","tickCount":{"interval":"month","step":1},"labelExpr":"datum.value < 795000000000 ? '' : substring(utcFormat(datum.value, '%b'), 0, 1)","title":null}},
"y":{"field":"v","type":"quantitative","scale":{"domain":[-50,100],"nice":false,"zero":false},"axis":{"orient":"left","values":[-50,0,50,100],"title":null}}}}
],
"resolve":{"axis":{"x":"independent","y":"independent"}}},
{"width":548,"height":104,
"title":{"text":"400 dbar","anchor":"start","frame":"group","offset":-31,"dx":9,"fontSize":17,"fontWeight":"normal"},
"layer":[
{"transform":[{"filter":"datum.s==='g4'"}],"mark":{"type":"line","color":"#999999","strokeWidth":4,"strokeJoin":"round","strokeCap":"round"},
"encoding":{"x":{"field":"d","type":"temporal","scale":{"type":"utc","nice":false,"domain":[{"year":1995,"month":3,"date":1,"utc":true},{"year":1997,"month":4,"date":1,"utc":true}]},"axis":{"orient":"top","tickCount":{"interval":"month","step":1},"labels":false,"title":null}},
"y":{"field":"v","type":"quantitative","scale":{"domain":[-50,100],"nice":false,"zero":false},"axis":{"orient":"right","values":[-50,0,50,100],"labels":false,"title":null}}}},
{"transform":[{"filter":"datum.s==='b4'"}],"mark":{"type":"line","color":"black","strokeWidth":1.1},
"encoding":{"x":{"field":"d","type":"temporal","scale":{"type":"utc","nice":false,"domain":[{"year":1995,"month":3,"date":1,"utc":true},{"year":1997,"month":4,"date":1,"utc":true}]},"axis":{"orient":"bottom","tickCount":{"interval":"month","step":1},"labelExpr":"datum.value < 795000000000 ? '' : substring(utcFormat(datum.value, '%b'), 0, 1)","title":null}},
"y":{"field":"v","type":"quantitative","scale":{"domain":[-50,100],"nice":false,"zero":false},"axis":{"orient":"left","values":[-50,0,50,100],"title":"Absolute Velocity (cm s\u207b\u00b9)","titleFontSize":17,"titleAngle":-90,"titleAlign":"center","titleBaseline":"middle","titleX":-66,"titleY":156}}}}
],
"resolve":{"axis":{"x":"independent","y":"independent"}}},
{"width":548,"height":104,
"title":{"text":"2000 dbar","anchor":"start","frame":"group","offset":-25,"dx":10,"fontSize":17,"fontWeight":"normal"},
"layer":[
{"transform":[{"filter":"datum.s==='g2'"}],"mark":{"type":"line","color":"#999999","strokeWidth":4,"strokeJoin":"round","strokeCap":"round"},
"encoding":{"x":{"field":"d","type":"temporal","scale":{"type":"utc","nice":false,"domain":[{"year":1995,"month":3,"date":1,"utc":true},{"year":1997,"month":4,"date":1,"utc":true}]},"axis":{"orient":"top","tickCount":{"interval":"month","step":1},"labels":false,"title":null}},
"y":{"field":"v","type":"quantitative","scale":{"domain":[-13,24.5],"nice":false,"zero":false},"axis":{"orient":"right","values":[-10,0,10,20],"labels":false,"title":null}}}},
{"transform":[{"filter":"datum.s==='b2'"}],"mark":{"type":"line","color":"black","strokeWidth":1.1},
"encoding":{"x":{"field":"d","type":"temporal","scale":{"type":"utc","nice":false,"domain":[{"year":1995,"month":3,"date":1,"utc":true},{"year":1997,"month":4,"date":1,"utc":true}]},"axis":{"orient":"bottom","tickCount":{"interval":"month","step":1},"labelExpr":"datum.value < 795000000000 ? '' : substring(utcFormat(datum.value, '%b'), 0, 1)","title":null}},
"y":{"field":"v","type":"quantitative","scale":{"domain":[-13,24.5],"nice":false,"zero":false},"axis":{"orient":"left","values":[-10,0,10,20],"title":null}}}}
],
"resolve":{"axis":{"x":"independent","y":"independent"}}},
{"width":548,"height":104,
"title":{"text":"3500 dbar","anchor":"start","frame":"group","offset":-25,"dx":10,"fontSize":17,"fontWeight":"normal"},
"layer":[
{"transform":[{"filter":"datum.s==='g3'"}],"mark":{"type":"line","color":"#999999","strokeWidth":4,"strokeJoin":"round","strokeCap":"round"},
"encoding":{"x":{"field":"d","type":"temporal","scale":{"type":"utc","nice":false,"domain":[{"year":1995,"month":3,"date":1,"utc":true},{"year":1997,"month":4,"date":1,"utc":true}]},"axis":{"orient":"top","tickCount":{"interval":"month","step":1},"labels":false,"title":null}},
"y":{"field":"v","type":"quantitative","scale":{"domain":[-13,24.5],"nice":false,"zero":false},"axis":{"orient":"right","values":[-10,0,10,20],"labels":false,"title":null}}}},
{"transform":[{"filter":"datum.s==='b3'"}],"mark":{"type":"line","color":"black","strokeWidth":1.1},
"encoding":{"x":{"field":"d","type":"temporal","scale":{"type":"utc","nice":false,"domain":[{"year":1995,"month":3,"date":1,"utc":true},{"year":1997,"month":4,"date":1,"utc":true}]},"axis":{"orient":"bottom","tickCount":{"interval":"month","step":1},"labelExpr":"datum.value < 795000000000 ? '' : substring(utcFormat(datum.value, '%b'), 0, 1)","title":null}},
"y":{"field":"v","type":"quantitative","scale":{"domain":[-13,24.5],"nice":false,"zero":false},"axis":{"orient":"left","values":[-10,0,10,20],"title":null}}}},
{"data":{"name":"yr"},"mark":{"type":"text","fontSize":26,"align":"center","baseline":"alphabetic","color":"black"},
"encoding":{"x":{"field":"d","type":"temporal","axis":null},"y":{"datum":-29.8,"type":"quantitative","axis":null},"text":{"field":"t"}}}
],
"resolve":{"axis":{"x":"independent","y":"independent"}}}
]
}
